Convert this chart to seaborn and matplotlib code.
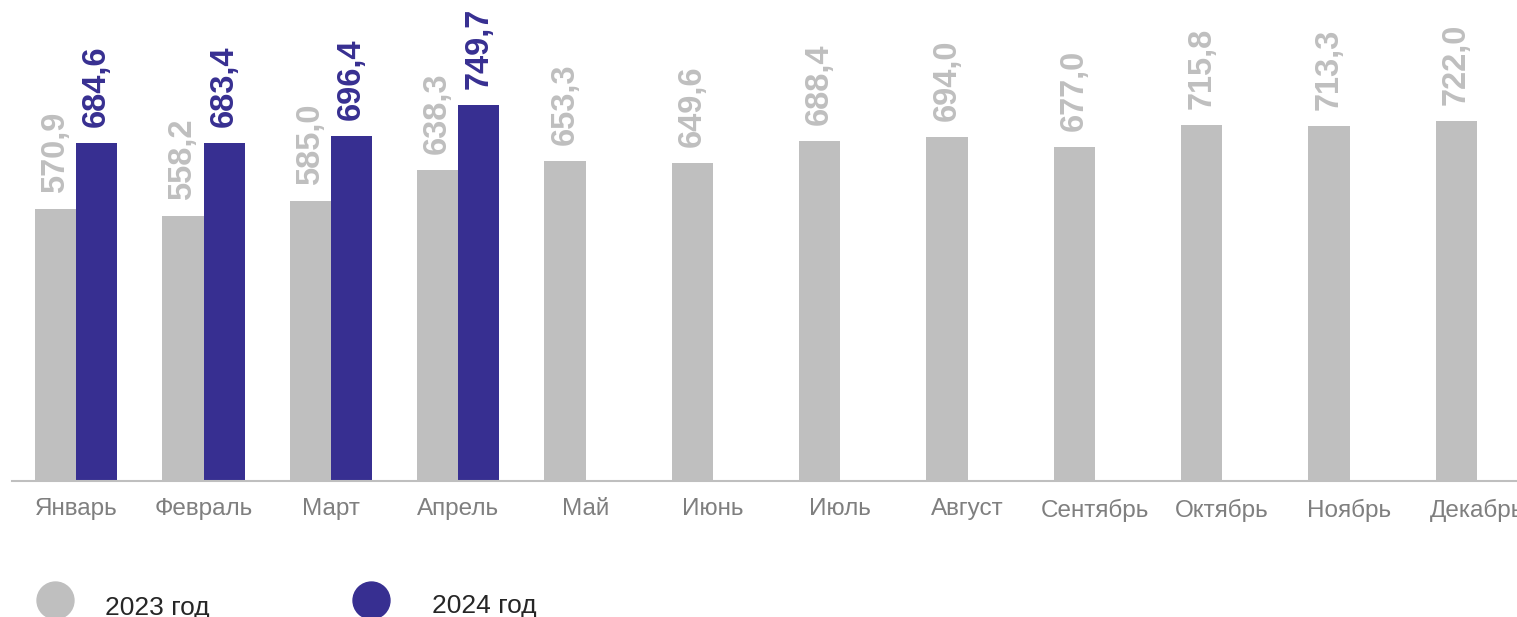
import numpy as np
import pandas as pd
import matplotlib
matplotlib.use("Agg")
import matplotlib.pyplot as plt
from matplotlib.lines import Line2D
import seaborn as sns

months = ['Январь', 'Февраль', 'Март', 'Апрель', 'Май', 'Июнь', 'Июль',
          'Август', 'Сентябрь', 'Октябрь', 'Ноябрь', 'Декабрь']
values_2023 = [570.9, 558.2, 585.0, 638.3, 653.3, 649.6, 688.4, 694.0, 677.0, 715.8, 713.3, 722.0]
values_2024 = [684.6, 683.4, 696.4, 749.7, np.nan, np.nan, np.nan, np.nan, np.nan, np.nan, np.nan, np.nan]
series_names = ['2023 год', '2024 год']
colors = ['#BFBFBF', '#372F91']

df = pd.DataFrame({
    'month': months * 2,
    'value': values_2023 + values_2024,
    'year': [series_names[0]] * len(months) + [series_names[1]] * len(months),
})

sns.set_theme(style='white')
plt.rcParams['font.family'] = ['Liberation Sans', 'DejaVu Sans']

W, H = 1517, 617
fig = plt.figure(figsize=(W / 100, H / 100), dpi=100)
ax = fig.add_axes([12.5 / W, (H - 481) / H, 1528 / W, 481 / H])

sns.barplot(data=df, x='month', y='value', hue='year', order=months,
            hue_order=series_names, palette=colors, width=0.644,
            dodge=True, saturation=1, legend=False, linewidth=0, ax=ax)

ax.set_ylim(103, 930)
ax.set_xlim(-0.5, len(months) - 0.5)

fmt = lambda v: f"{v:.1f}".replace('.', ',')
for cont, col in zip(ax.containers, colors):
    ax.bar_label(cont, fmt=fmt, rotation=90, padding=11.5, color=col,
                 fontsize=23.5, fontweight='bold')

ax.set_xlabel('')
ax.set_ylabel('')
ax.set_yticks([])
for s in ['top', 'right', 'left']:
    ax.spines[s].set_visible(False)
ax.spines['bottom'].set_color('#BFBFBF')
ax.spines['bottom'].set_linewidth(1.5)
ax.spines['bottom'].set_zorder(5)
ax.tick_params(axis='x', length=0, pad=12.5, labelsize=17.5, labelcolor='#7F7F7F')

# legend
ms = 26.6
for xc, col, name, tx, ty in [(55, colors[0], series_names[0], 105, 615),
                              (371, colors[1], series_names[1], 432, 613)]:
    fig.add_artist(Line2D([xc / W], [(H - 600) / H], marker='o', markersize=ms,
                          color=col, linestyle='none', transform=fig.transFigure))
    fig.text(tx / W, (H - ty) / H, name, fontsize=19, color='#262626',
             ha='left', va='baseline')

fig.savefig('out.png', dpi=100)
